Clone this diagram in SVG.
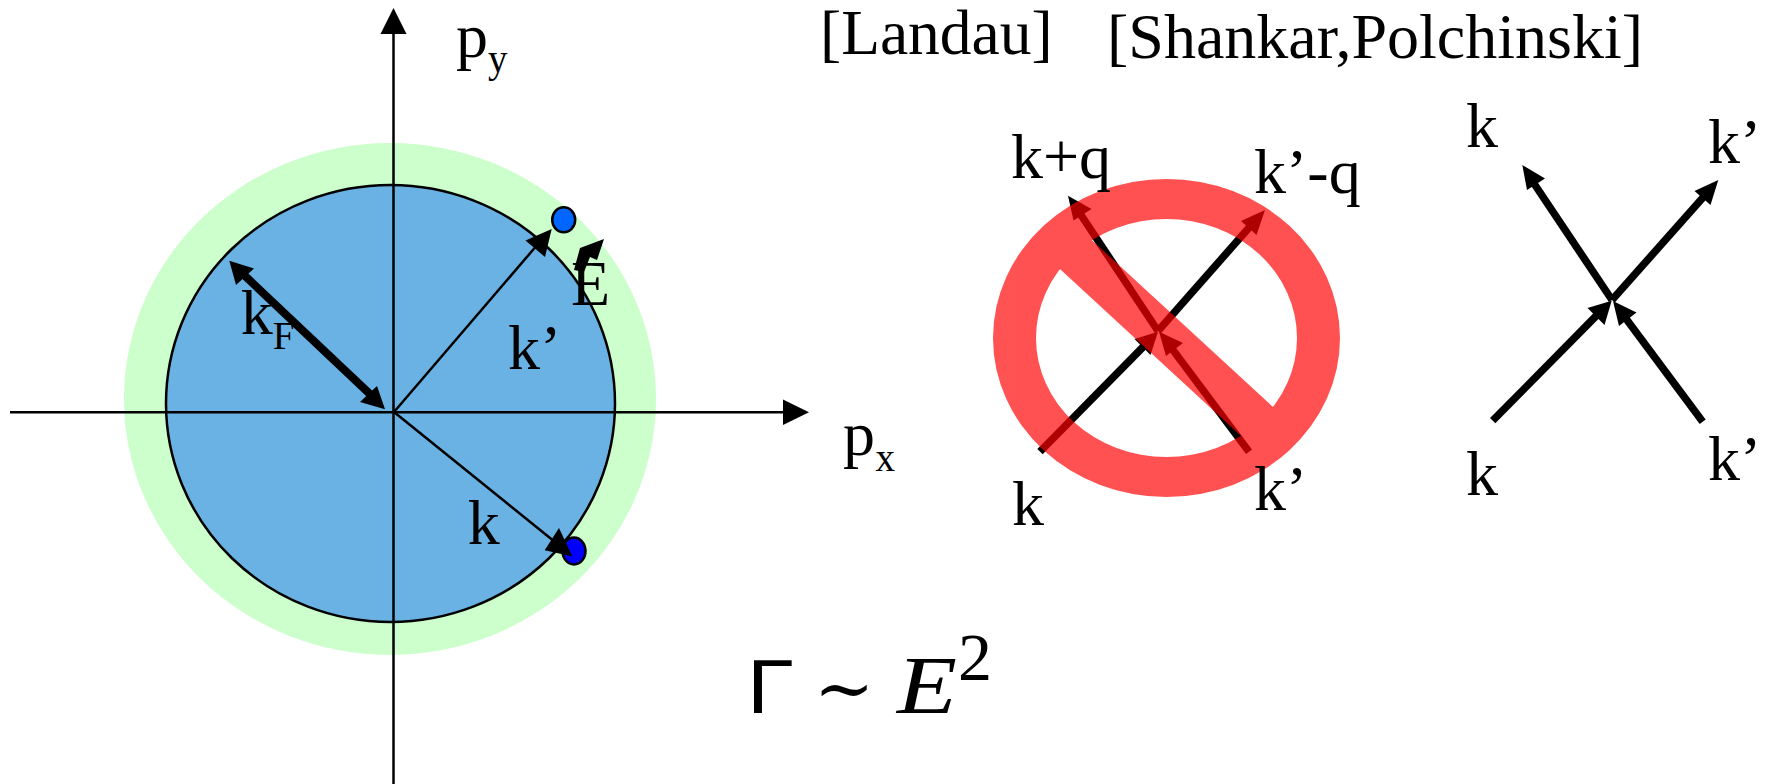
<svg xmlns="http://www.w3.org/2000/svg" width="1765" height="784" viewBox="0 0 1765 784">
<style>
text{font-family:"Liberation Serif","Times New Roman",serif;font-size:64px;fill:#000}
.sub{font-size:39px}
.ax{stroke:#000;stroke-width:2.5;fill:none}
.thin{stroke:#000;stroke-width:2.5;fill:none}
.thick{stroke:#000;stroke-width:7.5;fill:none}
.h{fill:#000;stroke:none}
</style>
<rect width="1765" height="784" fill="#fff"/>
<g id="regions">
<ellipse id="shell" cx="390" cy="399" rx="266" ry="256" fill="#ccffcc"/>
<ellipse id="fermi-sea" cx="390.5" cy="403.5" rx="224.5" ry="218.5" fill="#6ab2e3" stroke="#000" stroke-width="2.5"/>
</g>
<g id="connectors">
<path class="ax" d="M393.500 784V30M10 412.300H790"/>
<polygon class="h" points="393.500,8 380.500,34 406.500,34"/>
<polygon class="h" points="809,412.300 783,399.500 783,425"/>
<path class="thin" d="M394 412L538 244"/>
<polygon class="h" points="551.700,229 525.500,240.500 545,257"/>
<path class="thin" d="M394 412L555 542"/>
<path d="M243 274L372 396" stroke="#000" stroke-width="8" fill="none"/>
<polygon class="h" points="229.300,260.700 254,268.500 236,285"/>
<polygon class="h" points="385,409.300 360,402 377,386"/>
<polygon class="h" points="604,239 597,260 590,257 584,272 574,270 580,248"/>
<path class="thick" d="M1040 451.700L1146 344"/>
<polygon class="h" points="1158,331.700 1150.500,355 1134.500,339"/>
<path class="thick" d="M1158 331L1254 222"/>
<polygon class="h" points="1265,210 1256.500,235 1241,221"/>
<path class="thick" d="M1158 331L1077 209"/>
<polygon class="h" points="1068,195.700 1091.500,209 1073.500,220.500"/>
<path class="thick" d="M1249 451.700L1170 346"/>
<polygon class="h" points="1159,331.700 1183,343 1166,356"/>
<path class="thick" d="M1492.700 420.700L1600 312"/>
<polygon class="h" points="1611.700,300.700 1604.500,325 1587.500,308"/>
<path class="thick" d="M1702.700 421.700L1624 316"/>
<polygon class="h" points="1613,301 1636.500,312.500 1619,326"/>
<path class="thick" d="M1612 300L1531 179"/>
<polygon class="h" points="1522.300,165 1545,178.500 1527,190"/>
<path class="thick" d="M1612 300L1707 193"/>
<polygon class="h" points="1718.300,180 1710.500,205 1694.500,191"/>
</g>
<g id="dot-top"><ellipse cx="563.700" cy="219.700" rx="11.500" ry="12.500" fill="#0066ff" stroke="#000" stroke-width="2.500"/></g>
<g id="dot-bottom"><ellipse cx="574" cy="551" rx="11.500" ry="13.500" fill="#0000ff" stroke="#000" stroke-width="2.500"/><polygon class="h" points="572.400,556.600 544.700,550.300 559,528"/></g>
<g id="prohibition" opacity="0.68" fill="#ff0000">
<path fill-rule="evenodd" d="M993 338a173.500 159 0 1 0 347 0a173.500 159 0 1 0 -347 0ZM1036 338a130.500 119 0 1 0 261 0a130.500 119 0 1 0 -261 0Z"/>
<polygon points="1048,258 1079.700,229 1284.700,417.700 1253,447"/>
</g>
<g id="labels">
<text x="456" y="57">p</text><text class="sub" x="488" y="71.500">y</text>
<text x="843" y="455">p</text><text class="sub" x="875.500" y="470.500">x</text>
<text x="240.700" y="334">k</text><text class="sub" x="272.700" y="349.300">F</text>
<text x="508" y="369">k’</text>
<text x="571" y="305">E</text>
<text x="467.700" y="543.600">k</text>
<text x="820" y="54" style="font-size:63.500px">[Landau]</text>
<text x="1107" y="57.500">[Shankar,Polchinski]</text>
<text x="1011" y="177.700">k+q</text>
<text x="1254" y="193">k’-q</text>
<text x="1012" y="525">k</text>
<text x="1254" y="510">k’</text>
<text x="1466" y="147">k</text>
<text x="1708" y="163">k’</text>
<text x="1466" y="495">k</text>
<text x="1708" y="480">k’</text>
<text x="747" y="713" textLength="47" lengthAdjust="spacingAndGlyphs" style="font-family:'Liberation Sans',sans-serif;font-size:76px">Γ</text>
<text x="814" y="713" style="font-family:'DejaVu Serif',serif;font-size:72px">∼</text>
<text x="897" y="713" textLength="60" lengthAdjust="spacingAndGlyphs" style="font-style:italic;font-size:82px">E</text>
<text x="958" y="680" style="font-size:68px">2</text>
</g>
</svg>
